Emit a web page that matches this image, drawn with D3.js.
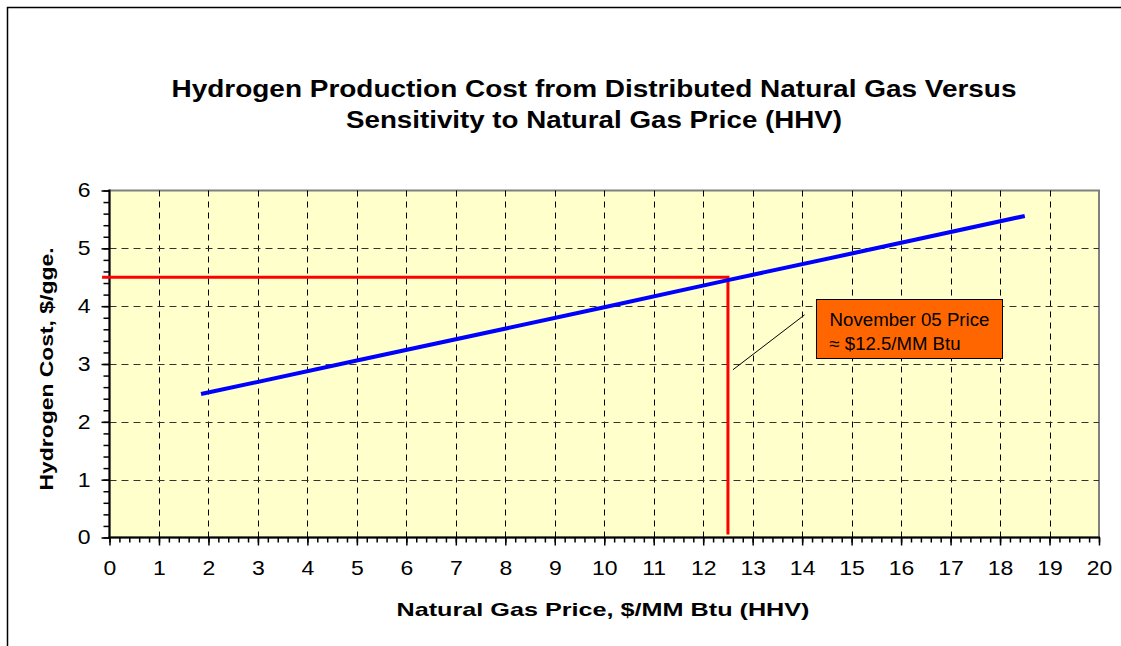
<!DOCTYPE html>
<html>
<head>
<meta charset="utf-8">
<script src="https://cdn.jsdelivr.net/npm/d3@7"></script>
<style>
  body { margin: 0; background: #fff; }
  svg text { font-family: Arial, "Liberation Sans", sans-serif; fill: #000; }
</style>
</head>
<body>
<svg id="chart" width="1121" height="646"></svg>
<script>
(function () {
    'use strict';

    // data
    var gasPrice = [1.85, 5, 10, 12.5, 15, 18.5];
    var h2Cost = [2.48, 3.06, 3.98, 4.45, 4.91, 5.56];
    var refPrice = 12.5,
        refCost = 4.5;
    var xTicks = d3.range(0, 21);
    var yTicks = d3.range(0, 7);
    var titleLines = [
        'Hydrogen Production Cost from Distributed Natural Gas Versus',
        'Sensitivity to Natural Gas Price (HHV)'
    ];
    var noteLines = ['November 05 Price', '\u2248 $12.5/MM Btu'];

    // layout
    var plot = { left: 109.5, right: 1099, top: 190.5, bottom: 537.5 },
        stretch = 1.15; // source text is a little wider than Arial

    var svg = d3.select('#chart');

    var x = d3.scaleLinear().domain([0, 20]).range([plot.left, plot.right]);
    var y = d3.scaleLinear().domain([0, 6]).range([plot.bottom, plot.top]);

    // outer frame (only top and left visible)
    svg.append('path')
        .attr('d', 'M7.5,646 V7.5 H1121')
        .attr('fill', 'none')
        .attr('stroke', '#000')
        .attr('stroke-width', 1.5);

    // title
    svg.append('g').selectAll('text')
        .data(titleLines)
        .join('text')
        .attr('x', 594)
        .attr('y', function (d, i) { return 97 + i * 31; })
        .attr('text-anchor', 'middle')
        .attr('font-size', 23)
        .attr('font-weight', 'bold')
        .attr('textLength', function (d, i) { return i ? 496 : 845; })
        .attr('lengthAdjust', 'spacingAndGlyphs')
        .text(function (d) { return d; });

    // plot area
    svg.append('rect')
        .attr('x', plot.left)
        .attr('y', plot.top)
        .attr('width', plot.right - plot.left)
        .attr('height', plot.bottom - plot.top)
        .attr('fill', '#FFFFCC')
        .attr('stroke', '#808080')
        .attr('stroke-width', 2);

    // grid
    var grid = svg.append('g').attr('class', 'grid');
    grid.selectAll('line.v')
        .data(xTicks.slice(1, -1))
        .join('line')
        .attr('class', 'v')
        .attr('x1', function (d) { return Math.round(x(d)) + 0.5; })
        .attr('x2', function (d) { return Math.round(x(d)) + 0.5; })
        .attr('y1', plot.top)
        .attr('y2', plot.bottom)
        .attr('stroke', '#000')
        .attr('stroke-dasharray', '6,5');
    grid.selectAll('line.h')
        .data(yTicks.slice(1, -1))
        .join('line')
        .attr('class', 'h')
        .attr('x1', plot.left)
        .attr('x2', plot.right)
        .attr('y1', function (d) { return Math.round(y(d)) + 0.5; })
        .attr('y2', function (d) { return Math.round(y(d)) + 0.5; })
        .attr('stroke', '#333')
        .attr('stroke-dasharray', '7,5');

    // axes: major + minor ticks
    var xMinor = d3.range(0, 20.01, 0.2);
    var yMinor = d3.range(0, 6.01, 0.2);

    var xAxis = svg.append('g')
        .attr('transform', 'translate(0,' + plot.bottom + ')');
    xAxis.call(d3.axisBottom(x).tickValues(xMinor).tickSize(5).tickFormat(''))
        .call(function (g) { g.select('.domain').remove(); });
    xAxis.append('g')
        .call(d3.axisBottom(x).tickValues(xTicks).tickSize(8).tickPadding(15).tickFormat(d3.format('d')))
        .call(function (g) {
            g.select('.domain').remove();
            g.selectAll('text')
                .attr('font-size', 20)
                .attr('font-family', 'Arial, "Liberation Sans", sans-serif')
                .attr('transform', 'scale(' + stretch + ',1)');
        });
    xAxis.append('line')
        .attr('x1', plot.left - 1)
        .attr('x2', plot.right + 1)
        .attr('stroke', '#000')
        .attr('stroke-width', 2);

    var yAxis = svg.append('g')
        .attr('transform', 'translate(' + plot.left + ',0)');
    yAxis.call(d3.axisLeft(y).tickValues(yMinor).tickSize(6).tickFormat(''))
        .call(function (g) { g.select('.domain').remove(); });
    yAxis.append('g')
        .call(d3.axisLeft(y).tickValues(yTicks).tickSize(8).tickPadding(11).tickFormat(d3.format('d')))
        .call(function (g) {
            g.select('.domain').remove();
            g.selectAll('text')
                .attr('font-size', 20)
                .attr('font-family', 'Arial, "Liberation Sans", sans-serif')
                .attr('x', -19 / stretch)
                .attr('transform', 'scale(' + stretch + ',1)');
        });
    yAxis.append('line')
        .attr('y1', plot.top - 1)
        .attr('y2', plot.bottom + 1)
        .attr('stroke', '#000')
        .attr('stroke-width', 2);
    svg.selectAll('.tick line').attr('stroke', '#000').attr('stroke-width', 1.5);

    // axis titles
    svg.append('text')
        .attr('x', 603)
        .attr('y', 616)
        .attr('text-anchor', 'middle')
        .attr('font-size', 19)
        .attr('font-weight', 'bold')
        .attr('textLength', 413)
        .attr('lengthAdjust', 'spacingAndGlyphs')
        .text('Natural Gas Price, $/MM Btu (HHV)');
    svg.append('text')
        .attr('transform', 'translate(53,369) rotate(-90)')
        .attr('text-anchor', 'middle')
        .attr('font-size', 19)
        .attr('font-weight', 'bold')
        .attr('textLength', 243)
        .attr('lengthAdjust', 'spacingAndGlyphs')
        .text('Hydrogen Cost, $/gge.');

    // reference price marker (red)
    svg.append('path')
        .attr('d', 'M' + x(-0.15) + ',' + y(refCost) +
            'H' + x(refPrice) + 'V' + y(0.05))
        .attr('fill', 'none')
        .attr('stroke', '#FF0000')
        .attr('stroke-width', 3);

    // cost curve (blue)
    var line = d3.line()
        .x(function (d) { return x(d[0]); })
        .y(function (d) { return y(d[1]); });
    svg.append('path')
        .datum(d3.zip(gasPrice, h2Cost))
        .attr('d', line)
        .attr('fill', 'none')
        .attr('stroke', '#0000FF')
        .attr('stroke-width', 4);

    // annotation
    svg.append('line')
        .attr('x1', x(12.6))
        .attr('y1', y(2.9))
        .attr('x2', x(14.05))
        .attr('y2', y(3.85))
        .attr('stroke', '#000')
        .attr('stroke-width', 1);
    var note = svg.append('g').attr('transform', 'translate(816.5,299.5)');
    note.append('rect')
        .attr('width', 186)
        .attr('height', 59)
        .attr('fill', '#FF6600')
        .attr('stroke', '#000')
        .attr('stroke-width', 1);
    note.selectAll('text')
        .data(noteLines)
        .join('text')
        .attr('x', 13)
        .attr('y', function (d, i) { return 26 + i * 24; })
        .attr('font-size', 18)
        .attr('textLength', function (d, i) { return i ? 131 : 160; })
        .attr('lengthAdjust', 'spacingAndGlyphs')
        .text(function (d) { return d; });
}());
</script>
</body>
</html>
